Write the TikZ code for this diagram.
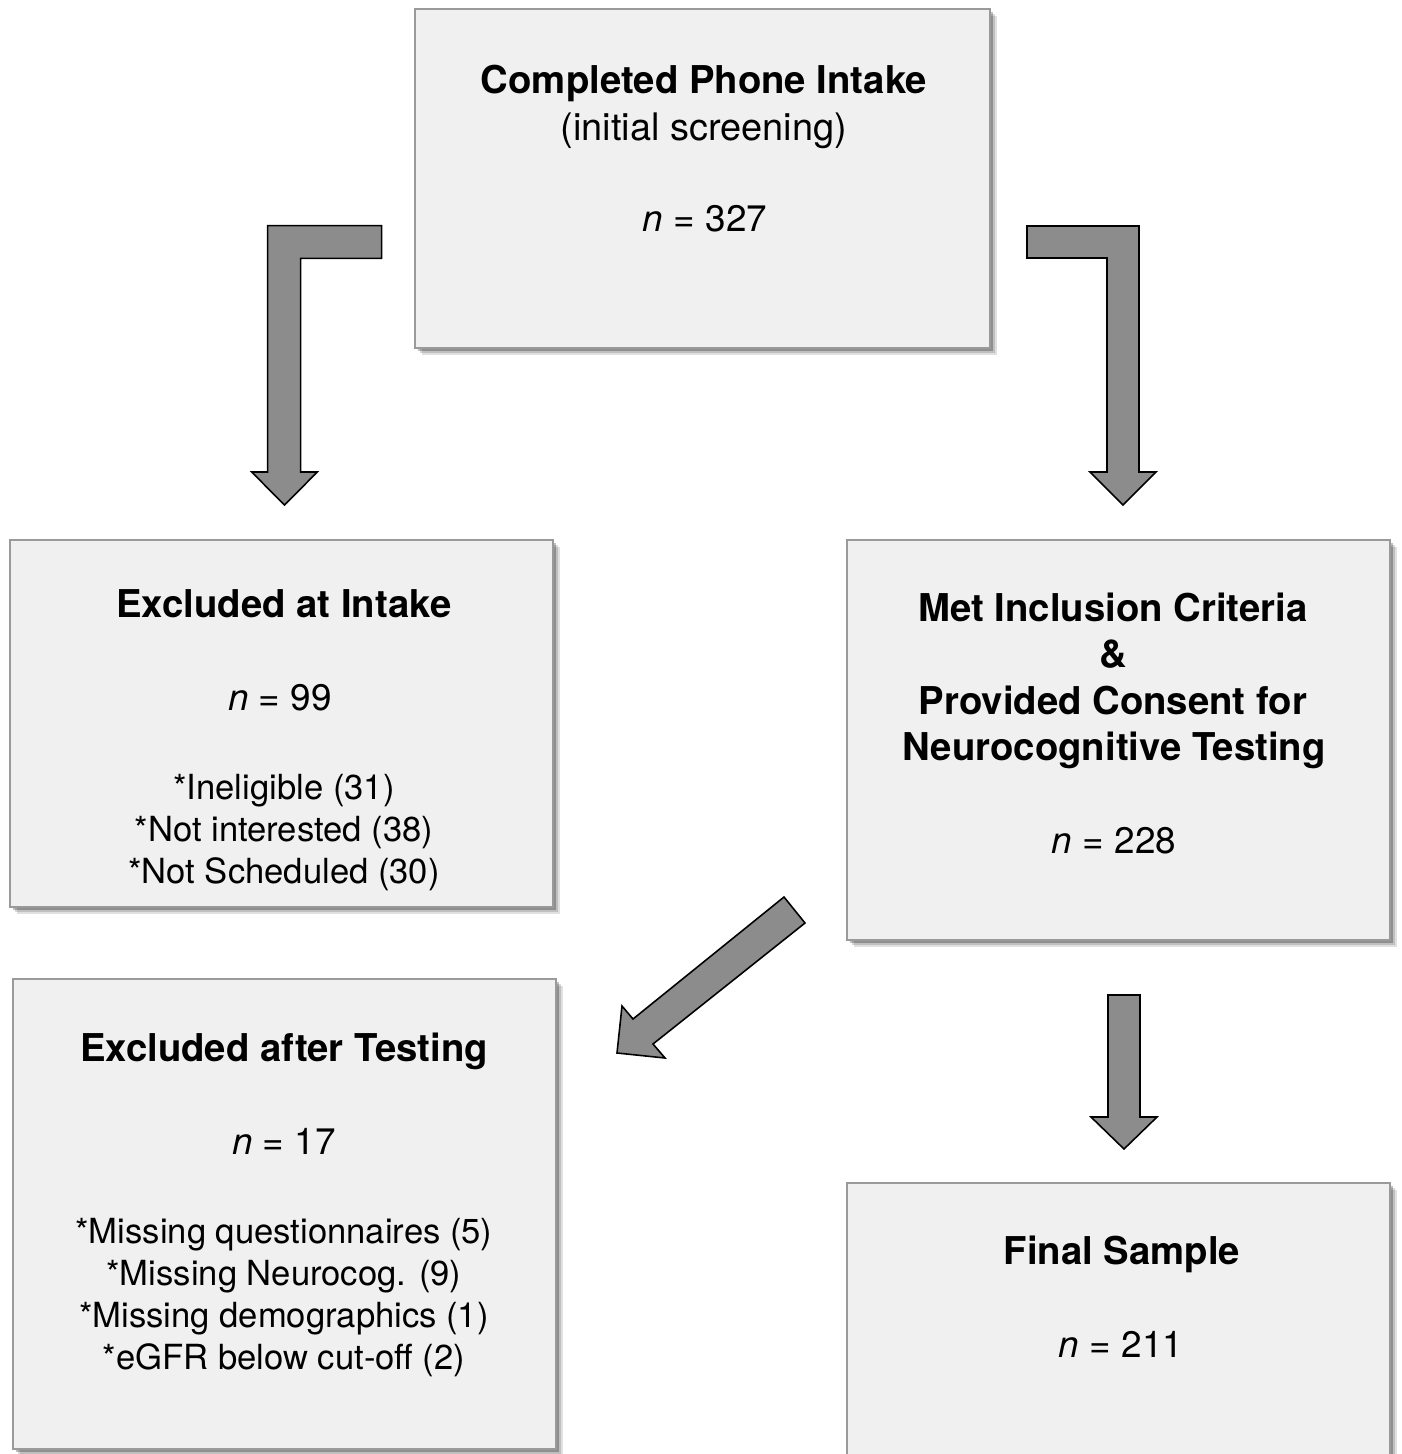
\documentclass[tikz,border=0pt]{standalone}
\usepackage{fontspec}
\setmainfont{TeX Gyre Heros}
\usetikzlibrary{shadows}
\definecolor{boxfill}{HTML}{F0F0F0}
\definecolor{boxline}{HTML}{9A9A9A}
\definecolor{arrowfill}{HTML}{8C8C8C}
\tikzset{
  flowbox/.style={draw=boxline, line width=0.8pt, fill=boxfill,
    drop shadow={shadow xshift=4pt, shadow yshift=-4pt, opacity=0.12, fill=black},
    drop shadow={shadow xshift=3pt, shadow yshift=-3pt, opacity=0.15, fill=black},
    drop shadow={shadow xshift=1.8pt, shadow yshift=-1.8pt, opacity=0.25, fill=black}},
  blockarrow/.style={draw=black, line width=0.9pt, fill=arrowfill, line join=miter},
  titletxt/.style={font=\fontsize{21.8}{26}\selectfont\bfseries, inner sep=0pt, anchor=base},
  numtxt/.style={font=\fontsize{21}{25}\selectfont, inner sep=0pt, anchor=base},
  listtxt/.style={font=\fontsize{19.7}{23.5}\selectfont, inner sep=0pt, anchor=base},
}
\begin{document}
\begin{tikzpicture}[x=0.02cm, y=-0.02cm]
\useasboundingbox (0,0) rectangle (1401,1454);
% boxes
\path[flowbox] (415,9) rectangle (990,348);
\node (top) at (702.5,178.5) {};
\path[flowbox] (10,540) rectangle (553,907);
\node (exint) at (281.5,723.5) {};
\path[flowbox] (847,540) rectangle (1390,940);
\node (met) at (1118.5,740) {};
\path[flowbox] (13,979) rectangle (556,1449);
\node (extest) at (284.5,1214) {};
\path[flowbox] (847,1183) rectangle (1390,1480);
\node (final) at (1118.5,1330) {};
% texts: top
\node[titletxt] (t1) at (704,93) {Completed Phone Intake};
\node[numtxt,font=\fontsize{21.6}{26}\selectfont] (t2) at (704,140) {(initial screening)};
\node[numtxt] (t3) at (705,231) {\textit{n} = 327};
% excluded at intake
\node[titletxt] (e1) at (284,617) {Excluded at Intake};
\node[numtxt] (e2) at (280,710) {\textit{n} = 99};
\node[listtxt] (e3) at (284,799) {*Ineligible (31)};
\node[listtxt] (e4) at (284,841) {*Not interested (38)};
\node[listtxt] (e5) at (284,883) {*Not Scheduled (30)};
% met inclusion
\node[titletxt] (m1) at (1113,621) {Met Inclusion Criteria};
\node[titletxt] (m2) at (1113,667) {\&};
\node[titletxt] (m3) at (1113,714) {Provided Consent for};
\node[titletxt] (m4) at (1114,760) {Neurocognitive Testing};
\node[numtxt] (m5) at (1114,853) {\textit{n} = 228};
% excluded after testing
\node[titletxt] (x1) at (284,1061) {Excluded after Testing};
\node[numtxt] (x2) at (284,1154) {\textit{n} = 17};
\node[listtxt] (x3) at (284,1243) {*Missing questionnaires (5)};
\node[listtxt] (x4) at (284,1285) {*Missing Neurocog. (9)};
\node[listtxt] (x5) at (284,1327) {*Missing demographics (1)};
\node[listtxt] (x6) at (284,1369) {*eGFR below cut-off (2)};
% final sample
\node[titletxt] (f1) at (1122,1264) {Final Sample};
\node[numtxt] (f2) at (1121,1357) {\textit{n} = 211};
% block arrows
\draw[blockarrow] (381.7,225.7) -- (267.7,225.7) -- (267.7,472) -- (251.7,472)
  -- (284.5,505) -- (317.3,472) -- (300.7,472) -- (300.7,258.3) -- (381.7,258.3) -- cycle;
\draw[blockarrow] (1027,226) -- (1139,226) -- (1139,472) -- (1156,472)
  -- (1123,505) -- (1090,472) -- (1107,472) -- (1107,258) -- (1027,258) -- cycle;
\draw[blockarrow] (1108,995) -- (1140,995) -- (1140,1117) -- (1157,1117)
  -- (1124,1149) -- (1091,1117) -- (1108,1117) -- cycle;
\draw[blockarrow] (784,897) -- (805,923) -- (653,1044) -- (665,1058)
  -- (617,1053) -- (622,1006) -- (633,1019) -- cycle;
\end{tikzpicture}
\end{document}
